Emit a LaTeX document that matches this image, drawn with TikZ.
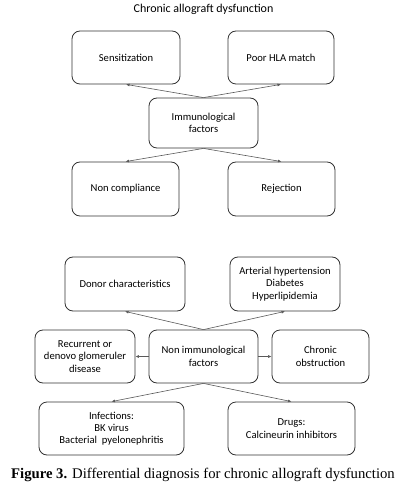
\documentclass[tikz,border=0pt]{standalone}
\usepackage{fontspec}
\setmainfont{Liberation Serif}
\newfontfamily\boxfont{Carlito}
\usetikzlibrary{arrows.meta}
\begin{document}
\begin{tikzpicture}[x=1pt,y=-1pt,
  fbox/.style={draw=black!80, line width=0.8pt, rounded corners=8pt, align=center,
    font=\boxfont\fontsize{10.6}{12.3}\selectfont, inner sep=0pt},
  conn/.style={draw=black!65, line width=0.6pt, -{Latex[length=3.5pt,width=3pt]}}]
\useasboundingbox (0,0) rectangle (406,486);
\node[font=\boxfont\fontsize{12}{14}\selectfont] (title) at (203.5,9) {Chronic allograft dysfunction};
\node[fbox, minimum width=108pt, minimum height=53pt] (sens) at (126,57.5) {Sensitization};
\node[fbox, minimum width=106pt, minimum height=53pt] (hla) at (281,57.5) {Poor HLA match};
\node[fbox, minimum width=109pt, minimum height=50pt] (imm) at (203.5,123) {Immunological\\factors};
\node[fbox, minimum width=107pt, minimum height=54pt] (nonc) at (125.5,189) {Non compliance};
\node[fbox, minimum width=107pt, minimum height=54pt] (rej) at (281.5,189) {Rejection};
\node[fbox, minimum width=120pt, minimum height=54pt] (donor) at (125,284) {Donor characteristics};
\node[fbox, minimum width=110pt, minimum height=54pt] (art) at (285,284) {Arterial hypertension\\Diabetes\\Hyperlipidemia};
\node[fbox, minimum width=109pt, minimum height=53pt] (nonimm) at (203.5,356.5) {Non immunological\\factors};
\node[fbox, minimum width=100pt, minimum height=53pt] (rec) at (85,356.5) {Recurrent or\\denovo glomeruler\\disease};
\node[fbox, minimum width=97pt, minimum height=53pt] (chr) at (320.5,356.5) {Chronic\\obstruction};
\node[fbox, minimum width=145pt, minimum height=53pt] (inf) at (111.5,428.5) {Infections:\\BK virus\\Bacterial\ \ pyelonephritis};
\node[fbox, minimum width=127pt, minimum height=53pt] (drug) at (291.5,428.5) {Drugs:\\Calcineurin inhibitors};
\node[anchor=base, font=\fontsize{14.7}{16}\selectfont, inner sep=0pt] (cap) at (203,478) {\textbf{Figure 3.} Differential diagnosis for chronic allograft dysfunction};
\draw[conn] (imm.north) -- (sens.south);
\draw[conn] (imm.north) -- (hla.south);
\draw[conn] (imm.south) -- (nonc.north);
\draw[conn] (imm.south) -- (rej.north);
\draw[conn] (nonimm.north) -- (donor.south);
\draw[conn] (nonimm.north) -- (art.south);
\draw[conn] (nonimm.west) -- (rec.east);
\draw[conn] (nonimm.east) -- (chr.west);
\draw[conn] (nonimm.south) -- (inf.north);
\draw[conn] (nonimm.south) -- (drug.north);
\end{tikzpicture}
\end{document}
